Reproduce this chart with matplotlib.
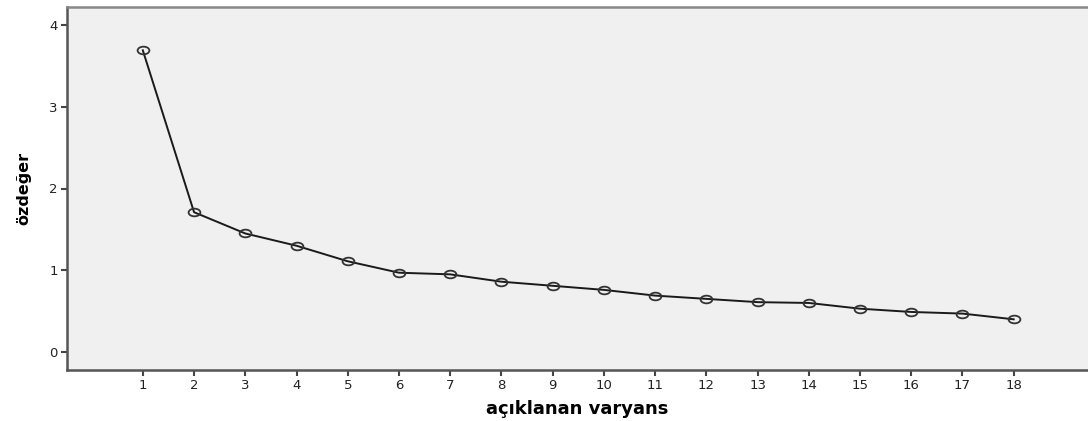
import numpy as np
import matplotlib
matplotlib.use("Agg")
import matplotlib.pyplot as plt
from matplotlib.path import Path
from matplotlib.transforms import Affine2D

plt.rcParams['font.family'] = ['DejaVu Sans']

# scree plot data
components = list(range(1, 19))
eigenvalues = [3.69, 1.71, 1.45, 1.30, 1.11, 0.97, 0.95, 0.86, 0.81,
               0.76, 0.69, 0.65, 0.61, 0.60, 0.53, 0.49, 0.47, 0.40]
y_ticks = [0, 1, 2, 3, 4]

fig = plt.figure(figsize=(10.88, 4.21), dpi=100)
ax = fig.add_axes([67 / 1088, 51 / 421, 1 - 67 / 1088, 363 / 421])
ax.set_facecolor('#f0f0f0')

# flattened circle marker like SPSS
ellipse = Path.unit_circle().transformed(Affine2D().scale(1.0, 0.65))

ax.plot(components, eigenvalues, color='#1a1a1a', linewidth=1.4,
        marker=ellipse, markersize=8.5, markerfacecolor='none',
        markeredgecolor='#333333', markeredgewidth=1.3)

ax.set_xlim(-0.48, 19.45)
ax.set_ylim(-0.22, 4.22)
ax.set_xticks(components)
ax.set_yticks(y_ticks)
ax.tick_params(axis='both', labelsize=9.5, length=4.5, width=1.5, color='#444444',
               labelcolor='#222222', pad=2)

for side in ['left', 'bottom']:
    ax.spines[side].set_color('#555555')
    ax.spines[side].set_linewidth(1.8)
ax.spines['top'].set_color('#888888')
ax.spines['top'].set_linewidth(1.8)
ax.spines['right'].set_visible(False)

ax.set_xlabel('açıklanan varyans', fontsize=13, fontweight='bold', labelpad=6)
ax.set_ylabel('özdeğer', fontsize=11.5, fontweight='bold', labelpad=13)

fig.savefig('out.png', dpi=100)
